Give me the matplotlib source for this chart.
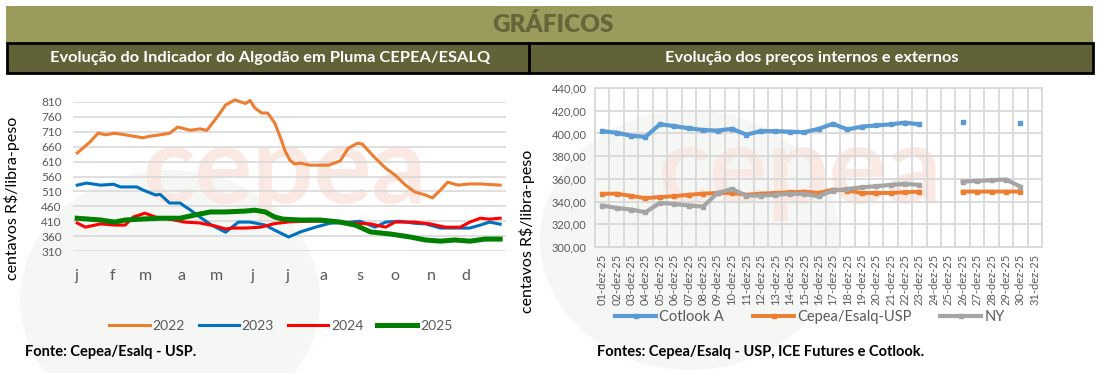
import numpy as np
import matplotlib
matplotlib.use("Agg")
import matplotlib.pyplot as plt
from matplotlib.patches import Rectangle, Ellipse
from matplotlib.lines import Line2D

plt.rcParams["font.family"] = ["Lato", "DejaVu Sans"]

W, H = 1102, 373

# ---- left chart: indicador CEPEA/ESALQ (day of year, centavos R$/lp)
days_2022 = [1, 12, 19, 25, 33, 42, 57, 63, 72, 80, 87, 98, 106, 112, 122, 128, 136, 145, 149, 153,
             159, 164, 170, 175, 179, 183, 187, 192, 200, 216, 226, 233, 241, 245, 256, 265, 273, 282,
             290, 299, 305, 312, 318, 327, 337, 346, 363]
vals_2022 = [639, 676, 706, 700, 705, 700, 690, 695, 700, 705, 726, 715, 720, 715, 766, 800, 817, 805, 815, 790,
             773, 773, 740, 690, 645, 615, 602, 605, 598, 598, 612, 655, 672, 669, 622, 588, 565, 531,
             508, 498, 488, 515, 541, 531, 535, 535, 531]

days_2023 = [1, 9, 21, 32, 38, 52, 57, 68, 72, 80, 89, 98, 106, 116, 128, 139, 149, 162, 170, 182,
             192, 205, 217, 235, 243, 256, 265, 277, 290, 299, 312, 324, 337, 346, 354, 363]
vals_2023 = [531, 538, 531, 534, 525, 525, 515, 498, 500, 471, 471, 447, 424, 397, 373, 407, 407, 397, 380, 357,
             374, 390, 403, 407, 410, 390, 407, 410, 403, 401, 387, 387, 387, 397, 407, 400]

days_2024 = [1, 8, 21, 33, 42, 49, 59, 68, 80, 93, 106, 119, 128, 134, 145, 158, 170, 183, 200, 217,
             235, 252, 265, 273, 290, 303, 316, 329, 337, 346, 354, 363]
vals_2024 = [404, 390, 401, 397, 397, 424, 437, 424, 417, 407, 404, 394, 384, 387, 387, 390, 402, 408, 410, 410,
             404, 401, 390, 407, 407, 401, 390, 390, 407, 420, 417, 420]

days_2025 = [1, 21, 33, 42, 55, 72, 89, 102, 115, 128, 145, 153, 162, 170, 177, 192, 209, 226, 239, 252,
             269, 286, 299, 312, 324, 337, 350, 363]
vals_2025 = [420, 414, 407, 414, 417, 420, 420, 431, 441, 441, 444, 447, 441, 424, 417, 414, 414, 407, 397, 374,
             367, 357, 347, 343, 347, 343, 350, 350]

month_starts = [0, 31, 59, 90, 120, 151, 181, 212, 243, 273, 304, 334]
month_labels = ["j", "f", "m", "a", "m", "j", "j", "a", "s", "o", "n", "d"]

# ---- right chart: precos internos e externos, dezembro/25
dec_days = list(range(1, 32))
dec_labels = ["%02d-dez-25" % d for d in dec_days]
nan = np.nan
cotlook = [402, 400.6, 398, 397, 408, 406.5, 404.5, 403, 402.5, 404, 399, 402, 402, 401.5, 401, 404,
           408.5, 403.5, 406, 407, 408, 409.5, 408, nan, nan, 410, nan, nan, nan, 409, nan]
cepea = [346.8, 347, 345, 343, 344, 344.7, 346, 347, 347.6, 347.6, 346, 347, 347.6, 348.2, 348.8, 347.6,
         350.6, 349.7, 347.6, 347.6, 347.6, 348.2, 348.8, nan, nan, 348.8, 348.8, 348.8, 348.8, 348.8, nan]
ny = [336.5, 334.4, 333, 330.6, 338.8, 338, 336.5, 335.6, 347.6, 351, 345.3, 345.3, 346, 346.8, 346.8, 344.7,
      349.7, 351, 352.6, 353.5, 354.7, 355.6, 354.7, nan, nan, 357.6, 358.2, 358.8, 359.4, 353.2, nan]


def box(x0, y0, x1, y1):
    # pixel box (top-left origin) -> figure fraction rect
    return [x0 / W, 1 - y1 / H, (x1 - x0) / W, (y1 - y0) / H]


fig = plt.figure(figsize=(W / 100, H / 100), dpi=100)
fig.patch.set_facecolor("white")

# header bands
r = box(6, 6, 1093, 43)
fig.patches.append(Rectangle((r[0], r[1]), r[2], r[3], transform=fig.transFigure,
                             facecolor="#9C9B5E", edgecolor="none", zorder=1))
r = box(7, 43, 1093, 73)
fig.patches.append(Rectangle((r[0], r[1]), r[2], r[3], transform=fig.transFigure,
                             facecolor="#626239", edgecolor="black", linewidth=2, zorder=1))
fig.add_artist(Line2D([529 / W, 529 / W], [1 - 43 / H, 1 - 73 / H], color="black", linewidth=2, zorder=2))
fig.text(553 / W, 1 - 24 / H, "GRÁFICOS", ha="center", va="center", fontsize=17.5, fontweight="heavy",
         color="#66663A", zorder=3)
fig.text(270 / W, 1 - 58 / H, "Evolução do Indicador do Algodão em Pluma CEPEA/ESALQ", ha="center",
         va="center", fontsize=11.8, fontweight="bold", color="white", zorder=3)
fig.text(812 / W, 1 - 58 / H, "Evolução dos preços internos e externos", ha="center", va="center",
         fontsize=11.8, fontweight="bold", color="white", zorder=3)

# faint watermark (cepea logo)
for cx in (285, 800):
    fig.text(cx / W, 1 - 172 / H, "cepea", ha="center", va="center", fontsize=78, fontweight="bold",
             color="#FAE9E3", zorder=-2)
for cx, cy in ((170, 300), (690, 240)):
    e = Ellipse((cx / W, 1 - cy / H), 300 / W, 260 / H, transform=fig.transFigure,
                facecolor="#F4F7F4", edgecolor="none", zorder=-3)
    fig.patches.append(e)

# ---- left axes
ax1 = fig.add_axes(box(73, 102, 506, 251))
ax1.patch.set_visible(False)
ax1.plot(days_2022, vals_2022, color="#ED7D31", linewidth=2.2, label="2022", zorder=3, clip_on=False)
ax1.plot(days_2023, vals_2023, color="#0070C0", linewidth=2.2, label="2023", zorder=3, clip_on=False)
ax1.plot(days_2024, vals_2024, color="#FF0000", linewidth=2.2, label="2024", zorder=3, clip_on=False)
ax1.plot(days_2025, vals_2025, color="#008000", linewidth=3.6, label="2025", zorder=4, clip_on=False)
ax1.set_xlim(-2.6, 368)
ax1.set_ylim(310, 810)
ax1.set_yticks(np.arange(310, 811, 50))
ax1.set_xticks(month_starts)
ax1.set_xticklabels(month_labels)
ax1.yaxis.grid(True, color="#D9D9D9", linewidth=1.2)
ax1.set_axisbelow(True)
for s in ax1.spines.values():
    s.set_visible(False)
ax1.tick_params(axis="y", length=0, labelsize=8.5, labelcolor="#595959", pad=8)
ax1.tick_params(axis="x", length=0, labelsize=11.5, labelcolor="#595959", pad=13)
ax1.set_ylabel("centavos R$/libra-peso", fontsize=11.5, labelpad=10)
ax1.yaxis.set_label_coords(-53 / 433, 0.35)
fig.legend(handles=ax1.get_lines(), loc="center", bbox_to_anchor=(281 / W, 1 - 326 / H), ncol=4,
           frameon=False, fontsize=10, handlelength=2.9, columnspacing=1.0, handletextpad=0.2,
           labelcolor="#595959")

# ---- right axes
ax2 = fig.add_axes(box(595, 88, 1042, 247))
ax2.patch.set_visible(False)
ax2.plot(dec_days, cotlook, color="#5B9BD5", linewidth=3.0, marker="s", markersize=3.3, label="Cotlook A", zorder=4)
ax2.plot(dec_days, cepea, color="#ED7D31", linewidth=2.8, marker="s", markersize=2.4, label="Cepea/Esalq-USP", zorder=3)
ax2.plot(dec_days, ny, color="#A5A5A5", linewidth=3.0, marker="s", markersize=2.4, label="NY", zorder=3)
ax2.set_xlim(0.5, 31.5)
ax2.set_ylim(300, 440)
ax2.set_yticks(np.arange(300, 441, 20))
ax2.set_yticklabels(["%d,00" % v for v in range(300, 441, 20)])
ax2.set_xticks(dec_days)
ax2.set_xticklabels(dec_labels, rotation=90)
ax2.set_xticks(np.arange(0.5, 32, 1), minor=True)
ax2.yaxis.grid(True, color="#D9D9D9", linewidth=1.3)
ax2.xaxis.grid(True, which="minor", color="#D9D9D9", linewidth=1.3)
ax2.set_axisbelow(True)
for s in ax2.spines.values():
    s.set_color("#D9D9D9")
    s.set_linewidth(1.3)
ax2.tick_params(axis="y", length=0, labelsize=8, labelcolor="#595959", pad=6)
ax2.tick_params(axis="x", which="both", length=0, labelsize=8, labelcolor="#595959", pad=5)
ax2.set_ylabel("centavos R$/libra-peso", fontsize=11.5)
ax2.yaxis.set_label_coords(-60 / 447, 0.1)
fig.legend(handles=ax2.get_lines(), loc="center", bbox_to_anchor=(810 / W, 1 - 317 / H), ncol=3,
           frameon=False, fontsize=10.5, handlelength=2.8, columnspacing=2.0, handletextpad=0.2,
           labelcolor="#595959")

fig.text(25 / W, 1 - 352 / H, "Fonte: Cepea/Esalq - USP.", ha="left", va="center", fontsize=10.5,
         fontweight="bold", color="black")
fig.text(597 / W, 1 - 352 / H, "Fontes: Cepea/Esalq - USP, ICE Futures e Cotlook.", ha="left", va="center",
         fontsize=10.5, fontweight="bold", color="black")

fig.savefig("out.png", dpi=100)
